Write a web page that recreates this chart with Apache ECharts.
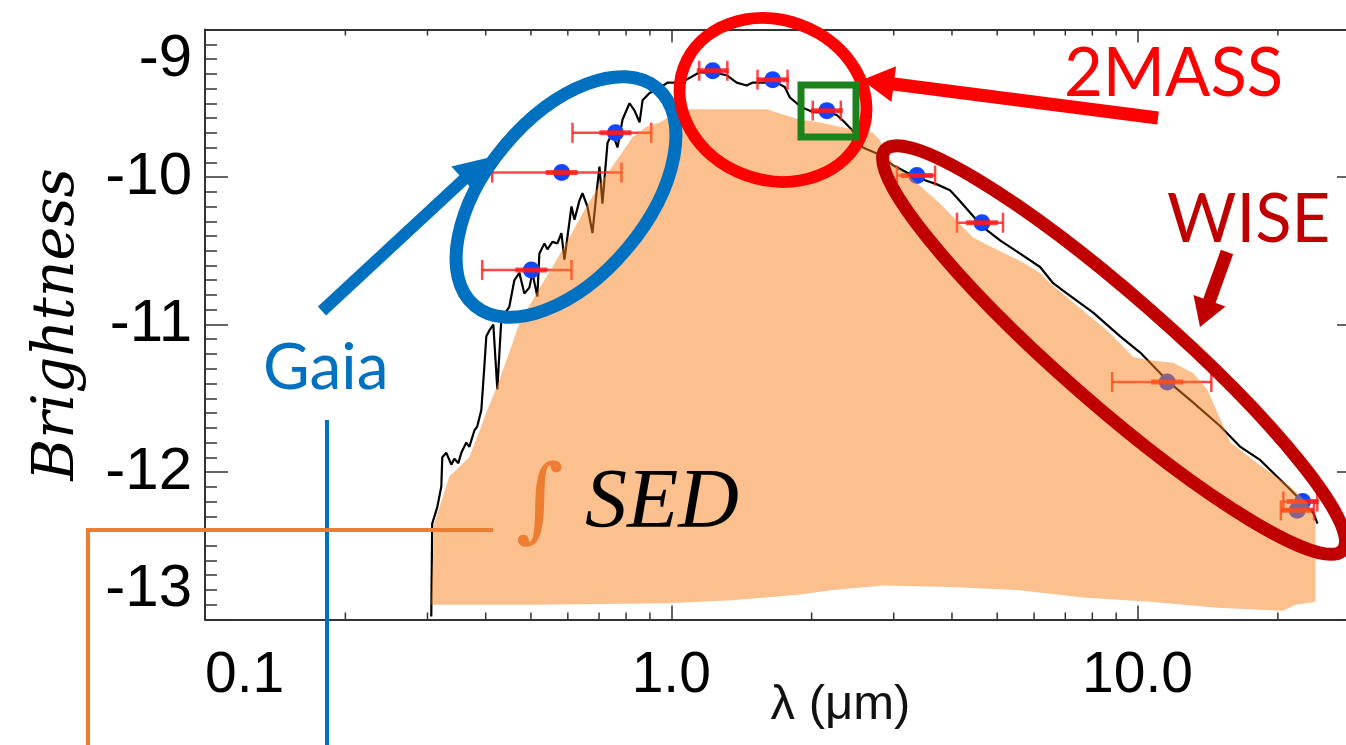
<!DOCTYPE html>
<html>
<head>
<meta charset="utf-8">
<script src="https://cdn.jsdelivr.net/npm/echarts@6/dist/echarts.min.js"></script>
<style>
  html, body { margin: 0; padding: 0; background: #fff; }
  #chart { width: 1346px; height: 745px; }
</style>
</head>
<body>
<div id="chart"></div>
<script>
// observed spectrum (wavelength in micron, brightness)
const specLambda = [0.3057, 0.3071, 0.3148, 0.3212, 0.3228, 0.3293, 0.3375, 0.3426, 0.3494, 0.3546,
  0.3635, 0.3689, 0.3781, 0.3837, 0.3914, 0.3972, 0.4012, 0.4073, 0.4153, 0.4236, 0.4321, 0.4494,
  0.4607, 0.4723, 0.4841, 0.4962, 0.5036, 0.5162, 0.5213, 0.5344, 0.5424, 0.5560, 0.5699, 0.5813,
  0.5900, 0.6109, 0.6200, 0.6354, 0.6449, 0.6610, 0.6776, 0.6912, 0.7015, 0.7119, 0.7298, 0.7481,
  0.7668, 0.7861, 0.8138, 0.8342, 0.8551, 0.8679, 0.8984, 0.9299, 0.9818, 1.0266, 1.0786, 1.1502,
  1.2268, 1.3145, 1.3813, 1.4512, 1.4950, 1.5710, 1.6837, 1.7513, 1.7954, 1.8584, 1.9144, 2.0117,
  2.1557, 2.2646, 2.3561, 2.4390, 2.5753, 2.7603, 2.9878, 3.2014, 3.4145, 3.7138, 3.9605, 4.1005,
  4.3719, 4.6622, 5.0717, 5.5999, 6.1802, 6.5917, 7.0632, 8.0338, 9.1800, 10.134, 11.58, 13.17,
  15.05, 16.62, 18.34, 20.97, 22.36, 23.85, 24.32];
const specBright = [-12.98, -12.35, -12.24, -12.10, -11.90, -11.87, -11.95, -11.91, -11.94, -11.87,
  -11.80, -11.83, -11.72, -11.69, -11.58, -11.29, -11.08, -11.04, -11.00, -11.44, -10.96, -10.88,
  -10.70, -10.65, -10.79, -10.75, -10.65, -10.81, -10.52, -10.45, -10.49, -10.44, -10.45, -10.38,
  -10.56, -10.20, -10.29, -10.16, -10.11, -10.20, -10.38, -10.11, -9.93, -10.18, -9.77, -9.70,
  -9.80, -9.61, -9.50, -9.55, -9.63, -9.48, -9.43, -9.41, -9.36, -9.36, -9.34, -9.29,
  -9.29, -9.31, -9.36, -9.38, -9.36, -9.36, -9.36, -9.39, -9.46, -9.50, -9.53, -9.56,
  -9.56, -9.58, -9.63, -9.68, -9.80, -9.84, -9.92, -9.97, -10.01, -10.05, -10.09, -10.14,
  -10.24, -10.34, -10.43, -10.52, -10.61, -10.72, -10.79, -10.92, -11.08, -11.19, -11.38, -11.53,
  -11.69, -11.83, -11.92, -12.10, -12.19, -12.28, -12.35];

// photometry: Gaia, 2MASS, WISE
const photLambda = [0.501, 0.582, 0.759, 1.227, 1.650, 2.156, 3.364, 4.638, 11.58, 22.6, 22.0];
const photBright = [-10.63, -9.97, -9.70, -9.28, -9.34, -9.55, -9.99, -10.31, -11.39, -12.20, -12.26];
const photLow = [0.393, 0.413, 0.614, 1.148, 1.531, 2.011, 3.047, 4.10, 8.82, 20.55, 20.3];
const photHigh = [0.611, 0.782, 0.906, 1.319, 1.776, 2.310, 3.679, 5.146, 14.40, 24.3, 23.9];

// outline of the integrated SED highlight
const sedLambda = [0.3057, 0.3102, 0.3342, 0.3689, 0.4012, 0.4277, 0.4539, 0.4723, 0.5137, 0.5560,
  0.6049, 0.6578, 0.7119, 0.7745, 0.8259, 0.8849, 0.9438, 1.0065, 1.0947, 1.3145, 1.6025, 1.7087,
  1.8864, 2.0823, 2.3797, 2.7057, 2.8015, 2.988, 3.2498, 3.7690, 4.4372, 4.8273, 5.6817, 6.180,
  6.494, 7.277, 8.608, 9.790, 10.49, 11.93, 13.17, 14.11, 15.28, 15.82, 18.07, 21.28, 23.15, 24.08,
  24.08, 21.81, 20.55, 14.83, 10.65, 7.645, 5.516, 3.9605, 2.843, 2.2207, 1.8864, 1.3541, 0.9770,
  0.5036, 0.3071];
const sedBright = [-12.90, -12.35, -12.03, -11.90, -11.60, -11.38, -11.15, -10.99, -10.79, -10.61,
  -10.41, -10.20, -10.02, -9.86, -9.73, -9.66, -9.63, -9.58, -9.54, -9.54, -9.54, -9.57,
  -9.61, -9.63, -9.67, -9.70, -9.75, -9.91, -10.00, -10.18, -10.41, -10.47, -10.58, -10.65,
  -10.72, -10.85, -11.04, -11.22, -11.24, -11.26, -11.33, -11.44, -11.69, -11.80, -11.94, -12.10, -12.21, -12.33,
  -12.88, -12.90, -12.94, -12.92, -12.88, -12.85, -12.80, -12.78, -12.77, -12.80, -12.83, -12.87, -12.89,
  -12.90, -12.90];

const xTickValues = [0.1, 1, 10];
const xTickLabels = ['0.1', '1.0', '10.0'];
const xMinorTicks = [0.2, 0.3, 0.4, 0.5, 0.6, 0.7, 0.8, 0.9, 2, 3, 4, 5, 6, 7, 8, 9, 20];

const chart = echarts.init(document.getElementById('chart'));

const axisColor = '#333';
const errColor = 'rgba(255,25,25,0.8)';

// arrow helper for the slide annotations: shaft + triangular head
function arrow(x1, y1, x2, y2, color, width, headLen, headHalf) {
  const dx = x2 - x1, dy = y2 - y1;
  const len = Math.sqrt(dx * dx + dy * dy);
  const ux = dx / len, uy = dy / len;
  const bx = x2 - ux * headLen, by = y2 - uy * headLen;
  return [
    { type: 'line', z: 100, shape: { x1: x1, y1: y1, x2: bx + ux * 2, y2: by + uy * 2 },
      style: { stroke: color, lineWidth: width } },
    { type: 'polygon', z: 100,
      shape: { points: [[x2, y2], [bx - uy * headHalf, by + ux * headHalf], [bx + uy * headHalf, by - ux * headHalf]] },
      style: { fill: color } }
  ];
}

const deg = Math.PI / 180;

const option = {
  animation: false,
  backgroundColor: '#fff',
  grid: { left: 205, top: 29.5, right: -14, bottom: 125.5, containLabel: false, outerBoundsMode: 'none' },
  xAxis: [
    {
      type: 'log', logBase: 10, min: 0.1, max: 30, position: 'bottom',
      name: 'λ (μm)', nameLocation: 'middle', nameGap: 61, nameMoveOverlap: false,
      nameTextStyle: { fontFamily: 'Liberation Sans', fontSize: 49, color: '#111', padding: [0, 0, 0, 116] },
      axisLine: { lineStyle: { color: axisColor, width: 2 } },
      axisTick: { inside: true, length: 14, lineStyle: { color: axisColor, width: 1.5 } },
      splitLine: { show: false },
      axisLabel: {
        margin: 28, fontFamily: 'Liberation Sans', fontSize: 57, color: '#000',
        showMaxLabel: false, alignMinLabel: 'left',
        formatter: function (v) {
          const i = xTickValues.findIndex(t => Math.abs(Math.log10(t) - Math.log10(v)) < 1e-6);
          return i >= 0 ? xTickLabels[i] : '';
        }
      }
    },
    {
      type: 'log', logBase: 10, min: 0.1, max: 30, position: 'top',
      axisLine: { lineStyle: { color: axisColor, width: 2 } },
      axisTick: { inside: true, length: 13, lineStyle: { color: axisColor, width: 1.5 } },
      axisLabel: { show: false },
      splitLine: { show: false }
    }
  ],
  yAxis: [
    {
      type: 'value', min: -13, max: -9, interval: 1, position: 'left',
      name: 'Brightness', nameLocation: 'middle', nameRotate: 90, nameGap: 118, nameMoveOverlap: false,
      nameTextStyle: { fontFamily: 'DejaVu Serif', fontStyle: 'italic', fontSize: 57, color: '#000' },
      axisLine: { lineStyle: { color: axisColor, width: 2 } },
      axisTick: { inside: true, length: 23, lineStyle: { color: axisColor, width: 1.5 } },
      minorTick: { show: true, splitNumber: 10, length: 12, lineStyle: { color: axisColor, width: 1.5 } },
      splitLine: { show: false },
      axisLabel: {
        margin: 13, fontFamily: 'Liberation Sans', fontSize: 60, color: '#000',
        verticalAlignMaxLabel: 'top', verticalAlignMinLabel: 'bottom'
      }
    },
    {
      type: 'value', min: -13, max: -9, interval: 1, position: 'right',
      axisLine: { lineStyle: { color: axisColor, width: 2 } },
      axisTick: { inside: true, length: 23, lineStyle: { color: axisColor, width: 1.5 } },
      minorTick: { show: true, splitNumber: 10, length: 12, lineStyle: { color: axisColor, width: 1.5 } },
      splitLine: { show: false },
      axisLabel: { show: false }
    }
  ],
  series: [
    {
      name: 'minor x ticks',
      type: 'custom',
      z: 1,
      data: xMinorTicks.map(v => [v, -13]),
      encode: { x: 0, y: 1 },
      renderItem: function (params, api) {
        const b = api.coord([api.value(0), -13]);
        const t = api.coord([api.value(0), -9]);
        const st = { stroke: axisColor, lineWidth: 1.5 };
        return {
          type: 'group', children: [
            { type: 'line', shape: { x1: b[0], y1: b[1], x2: b[0], y2: b[1] - 7 }, style: st },
            { type: 'line', shape: { x1: t[0], y1: t[1], x2: t[0], y2: t[1] + 6 }, style: st }
          ]
        };
      }
    },
    {
      name: 'spectrum',
      type: 'line',
      z: 2,
      data: specLambda.map((l, i) => [l, specBright[i]]),
      showSymbol: false,
      symbol: 'none',
      lineStyle: { color: '#000', width: 2.2 }
    },
    {
      name: 'photometry',
      type: 'scatter',
      z: 3,
      data: photLambda.map((l, i) => [l, photBright[i]]),
      symbolSize: 17,
      itemStyle: { color: '#1444ff', opacity: 1 }
    },
    {
      name: 'error bars',
      type: 'custom',
      z: 4,
      data: photLambda.map((l, i) => [l, photBright[i], photLow[i], photHigh[i]]),
      encode: { x: 0, y: 1 },
      renderItem: function (params, api) {
        const y = api.value(1);
        const p = api.coord([api.value(0), y]);
        const lo = api.coord([api.value(2), y]);
        const hi = api.coord([api.value(3), y]);
        const st = { stroke: errColor, lineWidth: 2.5 };
        return {
          type: 'group', children: [
            { type: 'line', shape: { x1: lo[0], y1: p[1], x2: hi[0], y2: p[1] }, style: st },
            { type: 'line', shape: { x1: lo[0], y1: p[1] - 10, x2: lo[0], y2: p[1] + 10 }, style: st },
            { type: 'line', shape: { x1: hi[0], y1: p[1] - 10, x2: hi[0], y2: p[1] + 10 }, style: st },
            { type: 'line', shape: { x1: p[0] - 16, y1: p[1], x2: p[0] + 16, y2: p[1] },
              style: { stroke: errColor, lineWidth: 5 } }
          ]
        };
      }
    },
    {
      name: 'integrated SED',
      type: 'custom',
      z: 5,
      data: sedLambda.map((l, i) => [l, sedBright[i]]),
      encode: { x: 0, y: 1 },
      renderItem: function (params, api) {
        if (params.dataIndex !== 0) return;
        const pts = sedLambda.map((l, i) => api.coord([l, sedBright[i]]));
        return { type: 'polygon', shape: { points: pts }, style: { fill: 'rgba(248,130,28,0.5)' } };
      }
    }
  ],
  graphic: [
    // Gaia
    { type: 'ellipse', z: 100, x: 566, y: 197, rotation: 50 * deg, shape: { cx: 0, cy: 0, rx: 142, ry: 80 },
      style: { fill: 'none', stroke: '#0070C0', lineWidth: 13 } },
    ...arrow(322, 311, 487, 158, '#0070C0', 12, 32, 18),
    { type: 'text', z: 100, x: 263, y: 368, style: { text: 'Gaia', fill: '#0070C0', font: '64px Lato',
      textAlign: 'left', textVerticalAlign: 'middle' } },
    { type: 'line', z: 100, shape: { x1: 327, y1: 420, x2: 327, y2: 745 }, style: { stroke: '#0070C0', lineWidth: 4 } },
    // integrated SED
    { type: 'polyline', z: 100, shape: { points: [[493, 530], [88, 530], [88, 745]] },
      style: { stroke: '#ED7D31', lineWidth: 4, fill: 'none' } },
    { type: 'text', z: 100, x: 540, y: 506, style: { text: '∫', fill: '#ED7D31', font: '92px "DejaVu Serif"',
      textAlign: 'center', textVerticalAlign: 'middle' } },
    { type: 'text', z: 100, x: 585, y: 505, style: { text: 'SED', fill: '#000', font: 'italic 84px "Liberation Serif"',
      textAlign: 'left', textVerticalAlign: 'middle' } },
    // 2MASS
    { type: 'ellipse', z: 100, x: 773, y: 100, rotation: -20 * deg, shape: { cx: 0, cy: 0, rx: 95, ry: 80 },
      style: { fill: 'none', stroke: '#FF0000', lineWidth: 12 } },
    { type: 'rect', z: 100, shape: { x: 801, y: 85, width: 55, height: 52 },
      style: { fill: 'none', stroke: '#1C821C', lineWidth: 7 } },
    ...arrow(1158, 118, 862, 80, '#FF0000', 13, 32, 18),
    { type: 'text', z: 100, x: 1064, y: 74, style: { text: '2MASS', fill: '#FF0000', font: '67px Lato',
      textAlign: 'left', textVerticalAlign: 'middle' } },
    // WISE
    { type: 'ellipse', z: 100, x: 1114, y: 350, rotation: -41.2 * deg, shape: { cx: 0, cy: 0, rx: 304, ry: 54 },
      style: { fill: 'none', stroke: '#C00000', lineWidth: 13 } },
    ...arrow(1227, 252, 1200, 327, '#C00000', 13, 28, 17),
    { type: 'text', z: 100, x: 1167, y: 220, style: { text: 'WISE', fill: '#C00000', font: '67px Lato',
      textAlign: 'left', textVerticalAlign: 'middle' } }
  ]
};

chart.setOption(option);
window.addEventListener('resize', () => chart.resize());
</script>
</body>
</html>
